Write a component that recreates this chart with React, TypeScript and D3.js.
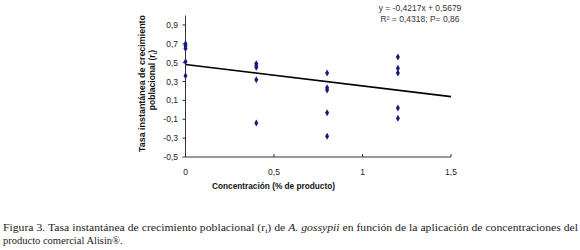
import React from "react";
import * as d3 from "d3";

const concentrations = [0, 0, 0, 0, 0, 0.4, 0.4, 0.4, 0.4, 0.4, 0.8, 0.8, 0.8, 0.8, 0.8, 1.2, 1.2, 1.2, 1.2, 1.2];
const rates = [0.70, 0.68, 0.65, 0.51, 0.36, 0.49, 0.47, 0.45, 0.32, -0.14, 0.39, 0.235, 0.21, -0.03, -0.28, 0.56, 0.44, 0.39, 0.02, -0.09];
const trendX = [0, 1.5];
const trendY = [0.48, 0.14];
const xTicks = [0, 0.5, 1, 1.5];
const xTickLabels = ["0", "0,5", "1", "1,5"];
const yTicks = [-0.5, -0.3, -0.1, 0.1, 0.3, 0.5, 0.7, 0.9];
const yTickLabels = ["-0,5", "-0,3", "-0,1", "0,1", "0,3", "0,5", "0,7", "0,9"];
const equationLines = ["y = -0,4217x + 0,5679", "R² = 0,4318; P= 0,86"];
const captionLine1 = "Figura 3. Tasa instantánea de crecimiento poblacional (r";
const captionLine2 = "producto comercial Alisin®.";

export default function App() {
  const W = 580, H = 250;
  const x = d3.scaleLinear().domain([0, 1.5]).range([185.5, 451]);
  const y = d3.scaleLinear().domain([-0.5, 1.0]).range([157, 15.5]);
  const line = d3.line<number>().x((_, i) => x(trendX[i])).y((d) => y(d));
  const diamond = d3.symbol().type(d3.symbolDiamond).size(14)();
  const sans = "'Liberation Sans', Arial, sans-serif";
  const serif = "'Liberation Serif', 'Times New Roman', serif";
  const axisColor = "#333";
  return (
    <svg width={W} height={H} style={{ position: "absolute", left: 0, top: 0, background: "#fff" }}>
      <rect width={W} height={H} fill="#fff" />
      {/* axes */}
      <line x1={x(0)} x2={x(0)} y1={y(1.0)} y2={y(-0.5)} stroke={axisColor} strokeWidth={1} />
      <line x1={x(0)} x2={x(1.5)} y1={y(-0.5)} y2={y(-0.5)} stroke={axisColor} strokeWidth={1} />
      {yTicks.map((t, i) => (
        <g key={"y" + i}>
          <line x1={x(0) - 3} x2={x(0)} y1={y(t)} y2={y(t)} stroke={axisColor} />
          <text x={178} y={y(t) + 3} textAnchor="end" fontFamily={sans} fontSize={8.5} fill="#222">
            {yTickLabels[i]}
          </text>
        </g>
      ))}
      {xTicks.map((t, i) => (
        <g key={"x" + i}>
          <line x1={x(t)} x2={x(t)} y1={y(-0.5) - 3} y2={y(-0.5)} stroke={axisColor} />
          <text x={x(t)} y={175} textAnchor="middle" fontFamily={sans} fontSize={8.5} fill="#222">
            {xTickLabels[i]}
          </text>
        </g>
      ))}
      {/* trend line */}
      <path d={line(trendY) || ""} fill="none" stroke="#000" strokeWidth={1.6} />
      {/* points */}
      {concentrations.map((c, i) => (
        <path key={"p" + i} d={diamond || ""} transform={`translate(${x(c)},${y(rates[i])})`} fill="#1a1a7e" />
      ))}
      {/* axis titles */}
      <text transform={`translate(144.5,83.5) rotate(-90)`} textAnchor="middle" fontFamily={sans} fontSize={8.5} fontWeight="bold" fill="#111" textLength={137} lengthAdjust="spacingAndGlyphs">
        Tasa instantánea de crecimiento
      </text>
      <text transform={`translate(154.5,80) rotate(-90)`} textAnchor="middle" fontFamily={sans} fontSize={8.5} fontWeight="bold" fill="#111">
        poblacional (r<tspan fontSize={6} dy={2}>i</tspan><tspan dy={-2}>)</tspan>
      </text>
      <text x={273.5} y={189} textAnchor="middle" fontFamily={sans} fontSize={8.5} fontWeight="bold" fill="#111" textLength={123} lengthAdjust="spacingAndGlyphs">
        Concentración (% de producto)
      </text>
      {/* equation */}
      {equationLines.map((t, i) => (
        <text key={"e" + i} x={420} y={11 + i * 11} textAnchor="middle" fontFamily={sans} fontSize={8.5} fill="#333">
          {t}
        </text>
      ))}
      {/* caption */}
      <text x={3} y={231} fontFamily={serif} fontSize={10.5} fill="#222" textLength={575} lengthAdjust="spacingAndGlyphs">
        {captionLine1}
        <tspan fontSize={7} dy={2}>i</tspan>
        <tspan dy={-2}>) de </tspan>
        <tspan fontStyle="italic">A. gossypii</tspan>
        <tspan> en función de la aplicación de concentraciones del</tspan>
      </text>
      <text x={3} y={244} fontFamily={serif} fontSize={10.5} fill="#222">
        {captionLine2}
      </text>
    </svg>
  );
}
